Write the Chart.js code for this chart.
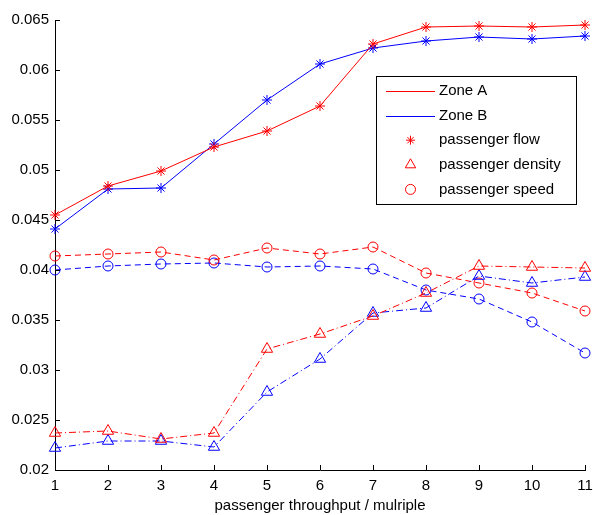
<!DOCTYPE html>
<html>
<head>
<meta charset="utf-8">
<script src="https://cdn.jsdelivr.net/npm/chart.js@4.4.0/dist/chart.umd.min.js"></script>
<style>
  body { margin: 0; background: #fff; }
  canvas { display: block; }
</style>
</head>
<body>
<canvas id="chart" width="593" height="515"></canvas>
<script>
// x positions (throughput multiple)
var multiples = [1, 2, 3, 4, 5, 6, 7, 8, 9, 10, 11];

// passenger flow
var flowA = [0.0455, 0.0484, 0.0499, 0.0523, 0.0539, 0.0564, 0.0626, 0.0643, 0.0644, 0.0643, 0.0645];
var flowB = [0.0441, 0.0481, 0.0482, 0.0526, 0.0570, 0.0606, 0.0622, 0.0629, 0.0633, 0.0631, 0.0634];
// passenger density
var densityA = [0.0237, 0.0239, 0.0231, 0.0237, 0.0321, 0.0336, 0.0354, 0.0377, 0.0404, 0.0403, 0.0402];
var densityB = [0.0222, 0.0229, 0.0229, 0.0223, 0.0278, 0.0311, 0.0357, 0.0362, 0.0394, 0.0387, 0.0393];
// passenger speed
var speedA = [0.0414, 0.0416, 0.0418, 0.0410, 0.0422, 0.0416, 0.0423, 0.0397, 0.0387, 0.0377, 0.0359];
var speedB = [0.0400, 0.0404, 0.0406, 0.0407, 0.0403, 0.0404, 0.0401, 0.0380, 0.0371, 0.0348, 0.0317];

var legendRows = ['Zone A', 'Zone B', 'passenger flow', 'passenger density', 'passenger speed'];

var RED = '#ff0000', BLUE = '#0000ff';
var FONT = '"Liberation Sans", Arial, sans-serif';

function pts(arr) {
	return arr.map(function(v, i) { return {x: multiples[i], y: v}; });
}

function series(label, arr, color, style, dash, radius) {
	return {
		label: label,
		data: pts(arr),
		borderColor: color,
		borderWidth: 1,
		borderDash: dash,
		pointStyle: style,
		pointRadius: radius,
		pointBorderColor: color,
		pointBackgroundColor: 'rgba(0,0,0,0)',
		pointBorderWidth: 1,
		tension: 0,
		fill: false,
		clip: false
	};
}

var DASH = [6, 4];
var DASHDOT = [7, 3, 1, 3];

// inward tick marks, matlab style
var innerTicks = {
	id: 'innerTicks',
	afterDraw: function(chart) {
		var ctx = chart.ctx, a = chart.chartArea;
		var xs = chart.scales.x, ys = chart.scales.y;
		ctx.save();
		ctx.strokeStyle = '#000';
		ctx.lineWidth = 1;
		ctx.beginPath();
		xs.ticks.forEach(function(t) {
			var px = Math.round(xs.getPixelForValue(t.value)) + 0.5;
			ctx.moveTo(px, a.bottom);
			ctx.lineTo(px, a.bottom - 5);
		});
		ys.ticks.forEach(function(t) {
			var py = Math.round(ys.getPixelForValue(t.value)) + 0.5;
			ctx.moveTo(a.left, py);
			ctx.lineTo(a.left + 5, py);
		});
		ctx.stroke();
		ctx.restore();
	}
};

// legend box inside the axes
var boxLegend = {
	id: 'boxLegend',
	afterDraw: function(chart) {
		var ctx = chart.ctx;
		var bx = 376.5, by = 76.5, bw = 200, bh = 128;
		ctx.save();
		ctx.fillStyle = '#fff';
		ctx.fillRect(bx, by, bw, bh);
		ctx.strokeStyle = '#000';
		ctx.lineWidth = 1;
		ctx.strokeRect(bx, by, bw, bh);
		ctx.font = '15px ' + FONT;
		ctx.textBaseline = 'middle';
		ctx.textAlign = 'left';
		legendRows.forEach(function(txt, i) {
			var y = 91 + i * 24.6;
			var mx = 410.5;
			ctx.strokeStyle = i === 1 ? BLUE : RED;
			ctx.beginPath();
			if (i < 2) {
				ctx.moveTo(386, Math.round(y) + 0.5);
				ctx.lineTo(435, Math.round(y) + 0.5);
			} else if (i === 2) {
				var r = 4.5;
				ctx.moveTo(mx - r, y); ctx.lineTo(mx + r, y);
				ctx.moveTo(mx, y - r); ctx.lineTo(mx, y + r);
				ctx.moveTo(mx - r * 0.7, y - r * 0.7); ctx.lineTo(mx + r * 0.7, y + r * 0.7);
				ctx.moveTo(mx - r * 0.7, y + r * 0.7); ctx.lineTo(mx + r * 0.7, y - r * 0.7);
			} else if (i === 3) {
				ctx.moveTo(mx, y - 6);
				ctx.lineTo(mx + 5.2, y + 3);
				ctx.lineTo(mx - 5.2, y + 3);
				ctx.closePath();
			} else {
				ctx.arc(mx, y, 5, 0, Math.PI * 2);
			}
			ctx.stroke();
			ctx.fillStyle = '#000';
			ctx.fillText(txt, 439, y);
		});
		ctx.restore();
	}
};

new Chart(document.getElementById('chart'), {
	type: 'line',
	data: {
		datasets: [
			series('flow A', flowA, RED, 'star', [], 5),
			series('flow B', flowB, BLUE, 'star', [], 5),
			series('density A', densityA, RED, 'triangle', DASHDOT, 6.5),
			series('density B', densityB, BLUE, 'triangle', DASHDOT, 6.5),
			series('speed A', speedA, RED, 'circle', DASH, 5),
			series('speed B', speedB, BLUE, 'circle', DASH, 5)
		]
	},
	options: {
		responsive: false,
		animation: false,
		devicePixelRatio: 1,
		layout: { padding: { top: 20, right: 0, left: 0, bottom: 0 } },
		plugins: {
			legend: { display: false },
			tooltip: { enabled: false }
		},
		scales: {
			x: {
				type: 'linear',
				min: 1,
				max: 11,
				ticks: { stepSize: 1, color: '#000', padding: 7, font: { family: FONT, size: 15 } },
				grid: { display: true, drawOnChartArea: false, drawTicks: false },
				border: { display: true, color: '#000', width: 1 },
				title: {
					display: true,
					text: 'passenger throughput / mulriple',
					color: '#000',
					font: { family: FONT, size: 15 },
					padding: { top: 0, bottom: 0 }
				},
				afterFit: function(s) {
					s.height = 45;
					s.paddingLeft = 0;
					s.paddingRight = 8;
				}
			},
			y: {
				min: 0.02,
				max: 0.065,
				ticks: {
					stepSize: 0.005,
					color: '#000',
					padding: 6,
					font: { family: FONT, size: 15 },
					callback: function(v) { return String(parseFloat(v.toFixed(3))); }
				},
				grid: { display: true, drawOnChartArea: false, drawTicks: false },
				border: { display: true, color: '#000', width: 1 },
				afterFit: function(s) { s.width = 55; }
			}
		}
	},
	plugins: [innerTicks, boxLegend]
});
</script>
</body>
</html>
